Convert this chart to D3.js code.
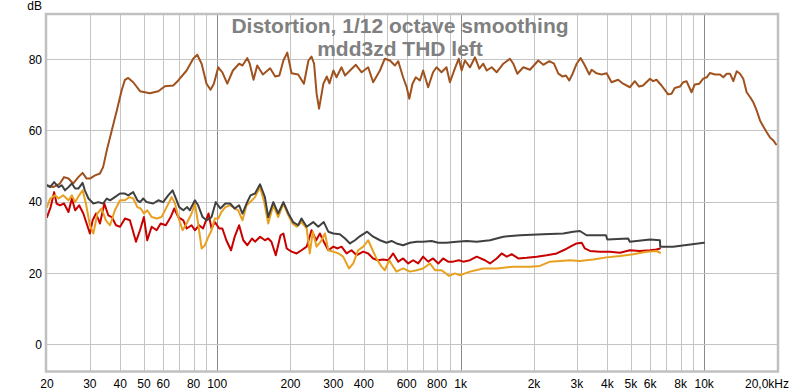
<!DOCTYPE html>
<html><head><meta charset="utf-8">
<script src="https://cdn.jsdelivr.net/npm/d3@7"></script>
<style>body{margin:0;background:#fff;}svg{display:block;font-family:"Liberation Sans",Arial,sans-serif;}</style>
</head><body><svg id="c" width="800" height="392"></svg>
<script>
const titleLines = ["Distortion, 1/12 octave smoothing", "mdd3zd THD left"];
const yTicks = [0, 20, 40, 60, 80];
const xGrid = [30,40,50,60,70,80,90,100,200,300,400,500,600,700,800,900,1000,2000,3000,4000,5000,6000,7000,8000,9000,10000];
const xDecades = [100, 1000, 10000];
const xTickValues = [20,30,40,50,60,80,100,200,300,400,600,800,1000,2000,3000,4000,5000,6000,8000,10000,20000];
const xTickLabels = ["20","30","40","50","60","80","100","200","300","400","600","800","1k","2k","3k","4k","5k","6k","8k","10k","20,0kHz"];

// Fundamental / level (brown)
const brownF = [20,21.2,22.6,23.5,24.5,25.6,26.9,28.0,29.1,30.0,31.5,33.0,34.0,35.2,36.9,38.7,40.5,41.8,43.1,45.2,48.2,52.9,57.3,61.0,66.0,69.2,74.9,79.7,82.8,86.3,90.4,93.9,96.9,101,105,110,116,123,127,133,136,141,146,154,165,173,180,187,194,202,215,227,237,244,250,256,262,273,282,289,300,309,324,335,351,371,392,417,437,466,488,512,537,554,580,600,615,634,654,680,701,735,770,796,834,874,903,946,982,1009,1041,1092,1145,1192,1238,1279,1341,1405,1496,1593,1644,1708,1808,1925,2083,2184,2311,2416,2518,2624,2705,2791,2882,2994,3108,3236,3371,3449,3614,3789,3973,4165,4430,4645,4950,5190,5400,5610,5990,6170,6370,6680,7110,7340,7570,7950,8200,8460,8870,9150,9550,9910,10240,10570,11070,11610,11980,12370,12760,13170,13600,14030,14470,14940,15520,15900,16420,16950,17490,18060,18640,19230,19710];
const brownV = [44.6,44.1,45.1,46.9,46.5,45.1,46.9,48.1,46.5,46.5,47.4,47.9,49.7,54.4,60.0,65.6,71.2,74.2,74.7,73.5,71.0,70.4,71.0,72.4,72.6,74.0,76.8,80.1,81.2,78.7,73.1,71.4,73.1,77.7,76.3,73.1,76.8,78.7,78.2,80.3,78.7,74.2,78.2,75.7,77.4,75.1,75.4,79.6,81.8,76.0,75.7,73.1,79.6,80.7,78.7,70.3,66.1,73.1,75.1,73.2,76.8,74.9,77.7,75.4,76.8,78.4,76.3,77.7,73.5,76.8,80.1,79.6,78.2,79.4,74.9,72.1,68.9,73.1,74.9,74.0,76.8,72.1,76.3,77.7,76.3,77.7,73.5,77.3,80.1,76.8,79.6,77.7,80.5,77.3,78.7,76.8,77.7,76.3,78.7,80.1,78.7,75.9,77.7,77.0,79.6,78.4,79.4,78.7,75.9,75.1,75.4,74.0,75.9,78.7,80.3,78.2,75.7,77.0,76.0,75.7,76.0,73.5,74.2,73.1,72.1,73.8,72.3,72.6,74.5,73.8,74.2,72.6,70.1,70.3,71.9,72.3,73.5,73.8,70.7,72.9,73.1,74.5,74.9,76.1,75.7,75.7,74.9,75.9,75.9,73.8,76.6,75.9,74.5,70.7,69.1,67.9,65.6,62.8,61.1,59.5,58.0,57.2,56.1];

// THD (dark gray)
const thdF = [20,20.6,21.4,22.3,23.0,23.7,24.5,25.3,26.1,26.9,28.0,28.6,29.6,31.0,32.5,34.0,35.2,36.3,38.0,39.9,41.8,43.1,45.2,47.0,48.2,49.7,51.3,54.6,57.3,60.0,62.9,65.6,67.7,69.8,72.6,75.3,77.2,81.0,83.5,87.1,90.4,94.8,98.7,103,108,113,118,123,127,132,137,143,150,157,162,170,178,187,196,205,215,222,233,248,260,274,286,300,319,335,351,368,385,413,437,466,496,520,545,580,619,659,701,759,809,874,963,1058,1163,1319,1496,1751,2184,2638,2898,3087,3288,3948,4000,4873,4950,5990,6580,6600,7450,8460,9980];
const thdV = [44.6,44.1,45.5,44.1,44.6,43.2,44.1,45.1,43.7,43.7,45.3,43.2,40.9,39.5,39.9,39.5,40.9,40.4,41.3,42.3,42.3,41.8,42.7,40.4,39.9,40.9,39.9,39.5,40.4,39.9,41.8,43.2,40.9,38.5,37.6,38.5,37.6,40.4,39.0,35.7,34.8,35.7,39.9,38.1,39.5,39.5,38.1,39.0,36.7,39.5,41.8,42.3,44.9,41.3,35.7,39.9,36.7,39.9,36.7,34.3,33.4,35.3,33.0,34.3,33.0,34.3,31.6,31.1,30.9,29.7,28.3,29.2,30.3,31.6,30.2,29.2,28.5,29.0,28.3,27.8,28.5,28.8,28.8,29.0,28.5,28.5,28.8,29.0,28.8,29.2,30.2,30.6,30.9,31.1,31.6,31.8,30.6,30.6,29.4,29.7,28.8,29.4,29.2,27.4,27.4,27.9,28.5];

// 2nd harmonic (red)
const h2F = [20,20.7,21.4,21.9,22.6,23.5,24.5,25.3,26.1,27.1,28.2,29.1,30.0,30.8,31.8,33.0,34.4,35.7,36.9,38.4,39.9,41.8,43.8,46.4,48.2,50.0,51.6,53.8,56.4,58.6,61.5,64.4,66.6,69.2,72.6,74.9,78.5,81.0,84.3,87.5,92.1,94.8,97.8,102,105,109,114,118,123,128,133,139,143,150,157,162,167,174,182,187,193,202,212,222,233,244,255,264,274,286,300,312,324,340,356,374,398,417,437,458,480,504,528,554,580,609,638,669,701,735,770,809,847,888,931,982,1025,1092,1163,1258,1319,1405,1473,1545,1619,1724,1867,2052,2255,2478,2681,2855,2994,3139,3236,3395,3731,4102,4510,4950,5440,5990,6370,6580];
const h2V = [35.7,38.5,42.7,39.5,39.0,39.5,37.1,40.9,37.6,39.0,36.7,33.9,31.1,34.8,36.7,33.9,39.5,36.2,35.7,33.4,33.0,35.3,34.8,28.8,32.0,35.7,29.2,33.0,32.0,33.9,33.4,35.7,38.1,35.7,34.8,32.5,33.4,32.0,33.4,32.5,36.7,32.5,34.3,32.5,32.5,29.2,26.4,30.2,33.4,29.2,27.8,29.7,28.8,30.2,29.2,29.7,28.8,25.0,30.6,31.1,26.9,26.0,25.5,26.4,27.4,32.0,29.2,31.1,28.8,26.4,27.4,26.9,27.4,25.5,26.4,25.0,26.0,25.5,24.1,23.6,23.8,23.6,25.5,23.2,24.1,22.7,23.6,22.7,24.6,23.2,24.1,22.7,24.1,23.2,23.2,23.6,23.2,23.6,24.6,23.6,22.7,24.1,25.5,24.6,25.3,24.1,24.3,24.6,25.0,25.5,26.6,27.6,28.3,28.5,26.9,26.2,26.0,26.0,25.7,26.4,26.2,26.4,26.6,26.9];

// 3rd harmonic (orange)
const h3F = [20,20.6,21.6,22.3,23.3,24.5,25.3,26.1,27.1,28.0,28.9,30.0,31.0,32.2,33.5,34.9,36.3,38.0,39.9,41.8,43.6,45.2,47.0,48.5,50.0,51.6,53.8,56.4,59.1,62.0,65.0,67.1,69.2,72.1,74.9,78.5,81.0,83.5,86.3,89.0,92.1,94.8,97.8,101,104,108,113,118,122,127,132,139,143,150,156,162,170,178,187,196,204,212,222,233,240,247,256,266,277,286,300,315,329,348,362,379,398,417,435,451,473,488,509,528,545,580,619,659,701,747,784,834,897,946,993,1092,1238,1405,1644,1925,2116,2327,2558,2809,3087,3500,3973,4510,5110,5800,6370,6580];
const h3V = [38.5,40.9,41.8,40.9,41.8,40.4,41.8,39.9,41.8,43.2,39.5,33.4,31.1,36.7,38.1,34.8,33.4,37.6,40.4,40.4,41.3,40.9,38.5,38.1,36.7,37.6,35.7,35.3,35.7,38.5,41.3,39.5,35.7,32.0,33.9,36.7,39.5,33.9,26.9,27.8,30.2,32.0,35.3,35.3,37.1,38.5,39.0,38.1,37.6,34.8,39.0,40.4,41.3,44.1,39.9,33.9,39.0,35.7,39.5,36.2,33.9,33.0,34.3,32.5,25.5,31.6,27.4,28.8,31.1,26.4,26.0,25.5,24.6,21.3,22.7,26.4,27.4,29.2,26.4,24.1,21.8,20.8,23.6,21.8,20.4,21.3,20.4,20.8,21.3,22.7,20.8,20.8,19.2,19.9,19.4,20.4,21.3,21.3,21.8,21.8,22.0,23.2,23.4,23.6,23.4,23.8,24.4,24.8,25.3,26.0,26.2,25.7];

const series = [
  {f: brownF, v: brownV, color: "#a0521e"},
  {f: h2F, v: h2V, color: "#c80000"},
  {f: h3F, v: h3V, color: "#e8a020"},
  {f: thdF, v: thdV, color: "#404040"}
];

const svg = d3.select("#c");
const L = 47, R = 777.5, T = 14.5, B = 371.5;
const x = d3.scaleLog().domain([20, 20000]).range([L, R]);
const y = d3.scaleLinear().domain([-7.6, 92.5]).range([B, T]);

// grid
svg.append("g").selectAll("line").data(xGrid).join("line")
  .attr("x1", d => Math.round(x(d)) + 0.5).attr("x2", d => Math.round(x(d)) + 0.5)
  .attr("y1", T).attr("y2", B)
  .attr("stroke", d => xDecades.includes(d) ? "#8a8a8a" : "#c4c4c4").attr("stroke-width", 1);
svg.append("g").selectAll("line").data(yTicks).join("line")
  .attr("x1", L).attr("x2", R)
  .attr("y1", d => Math.round(y(d)) + 0.5).attr("y2", d => Math.round(y(d)) + 0.5)
  .attr("stroke", "#c4c4c4").attr("stroke-width", 1);

// frame
svg.append("rect").attr("x", L - 1).attr("y", T - 0.5).attr("width", R - L + 1.5).attr("height", B - T + 0.5)
  .attr("fill", "none").attr("stroke", "#c0c0c0").attr("stroke-width", 2.5);

// title
svg.append("g").selectAll("text").data(titleLines).join("text")
  .attr("x", 400).attr("y", (d, i) => 33 + i * 22.5)
  .attr("text-anchor", "middle").attr("font-size", 21).attr("font-weight", "bold")
  .attr("fill", "#808080").text(d => d);

// clip
svg.append("clipPath").attr("id", "clip").append("rect")
  .attr("x", L).attr("y", T).attr("width", R - L).attr("height", B - T);

const line = d3.line().x(d => x(d[0])).y(d => y(d[1]));
const lg = svg.append("g").attr("clip-path", "url(#clip)");
series.forEach(s => {
  lg.append("path").datum(s.f.map((f, i) => [f, s.v[i]]))
    .attr("d", line).attr("fill", "none").attr("stroke", s.color)
    .attr("stroke-width", 2).attr("stroke-linejoin", "round").attr("stroke-linecap", "round");
});

// y labels
svg.append("g").selectAll("text").data(yTicks).join("text")
  .attr("x", 42).attr("y", d => y(d) + 4.5).attr("text-anchor", "end")
  .attr("font-size", 12).attr("fill", "#000").text(d => d);
svg.append("text").attr("x", 42).attr("y", 10).attr("text-anchor", "end")
  .attr("font-size", 12).attr("fill", "#000").text("dB");

// x labels
svg.append("g").selectAll("text").data(xTickValues).join("text")
  .attr("x", (d, i) => i === xTickValues.length - 1 ? 789 : x(d))
  .attr("y", 388).attr("text-anchor", (d, i) => i === xTickValues.length - 1 ? "end" : "middle")
  .attr("font-size", 12).attr("fill", "#000").text((d, i) => xTickLabels[i]);
</script></body></html>
